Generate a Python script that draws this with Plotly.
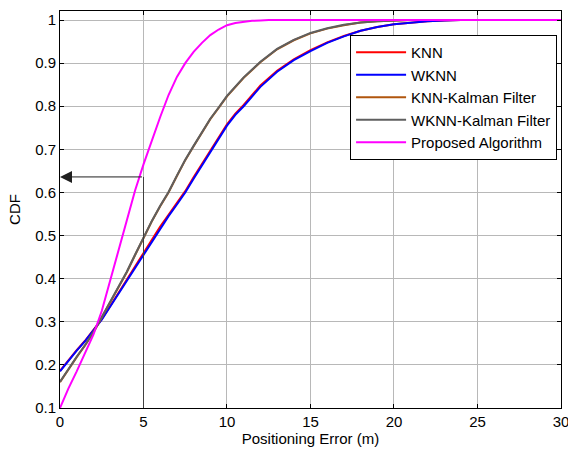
import plotly.graph_objects as go

# ---- data ----
x_knn = [0, 0.5, 1, 1.5, 2, 2.5, 3, 3.5, 4, 4.5, 5, 5.5, 6, 6.5, 7, 7.5, 8, 8.5, 9, 9.5,
         10, 10.5, 11, 12, 13, 14, 15, 16, 17, 18, 19, 20, 21, 22, 23, 24, 30]
y_knn = [0.186, 0.211, 0.234, 0.256, 0.281, 0.306, 0.336, 0.367, 0.397, 0.428, 0.458, 0.491,
         0.521, 0.548, 0.575, 0.603, 0.635, 0.666, 0.698, 0.728, 0.758, 0.783, 0.803, 0.848,
         0.882, 0.909, 0.930, 0.948, 0.963, 0.975, 0.984, 0.990, 0.994, 0.997, 0.999, 1.0, 1.0]
y_wknn = [0.185, 0.210, 0.233, 0.255, 0.280, 0.305, 0.335, 0.365, 0.395, 0.425, 0.455, 0.488,
          0.518, 0.545, 0.572, 0.600, 0.632, 0.663, 0.695, 0.725, 0.755, 0.780, 0.800, 0.845,
          0.880, 0.907, 0.928, 0.947, 0.962, 0.975, 0.984, 0.990, 0.994, 0.997, 0.999, 1.0, 1.0]

x_kal = [0, 0.5, 1, 1.5, 2, 2.5, 3, 3.5, 4, 4.5, 5, 5.5, 6, 6.5, 7, 7.5, 8, 8.5, 9, 9.5,
         10, 11, 12, 13, 14, 15, 16, 17, 18, 19, 20, 21, 30]
y_knn_kal = [0.160, 0.190, 0.218, 0.245, 0.275, 0.310, 0.345, 0.380, 0.415, 0.455, 0.495,
             0.533, 0.568, 0.600, 0.638, 0.675, 0.707, 0.740, 0.770, 0.796, 0.823, 0.866,
             0.902, 0.932, 0.953, 0.969, 0.980, 0.988, 0.994, 0.997, 0.999, 1.0, 1.0]
y_wknn_kal = [0.161, 0.191, 0.219, 0.246, 0.276, 0.311, 0.346, 0.381, 0.416, 0.456, 0.496,
              0.534, 0.569, 0.601, 0.639, 0.676, 0.708, 0.741, 0.771, 0.797, 0.824, 0.867,
              0.903, 0.933, 0.954, 0.970, 0.981, 0.989, 0.994, 0.997, 0.999, 1.0, 1.0]

x_prop = [0, 0.5, 1, 1.5, 2, 2.5, 3, 3.5, 4, 4.5, 5, 5.5, 6, 6.5, 7, 7.5, 8, 8.5, 9, 9.5,
          10, 10.5, 11, 11.5, 12, 12.5, 30]
y_prop = [0.100, 0.145, 0.185, 0.226, 0.270, 0.325, 0.395, 0.465, 0.535, 0.605, 0.665,
          0.722, 0.775, 0.826, 0.868, 0.900, 0.926, 0.947, 0.965, 0.978, 0.988, 0.993,
          0.996, 0.998, 0.999, 1.0, 1.0]

names = ["KNN", "WKNN", "KNN-Kalman Filter", "WKNN-Kalman Filter", "Proposed Algorithm"]
colors = ["#ff0000", "#0000ff", "#b0560e", "#5f5f5f", "#ff00ff"]

x_ticks = [0, 5, 10, 15, 20, 25, 30]
y_ticks = [0.1, 0.2, 0.3, 0.4, 0.5, 0.6, 0.7, 0.8, 0.9, 1.0]
y_tick_text = ["0.1", "0.2", "0.3", "0.4", "0.5", "0.6", "0.7", "0.8", "0.9", "1"]

marker_x = 5       # positioning error marked by the arrow
marker_y = 0.636   # CDF value pointed at

FONT = "Liberation Sans, Arial, sans-serif"
FS = 15

fig = go.Figure()
series = [(x_knn, y_knn), (x_knn, y_wknn), (x_kal, y_knn_kal), (x_kal, y_wknn_kal), (x_prop, y_prop)]
for (xs, ys), n, c in zip(series, names, colors):
    fig.add_trace(go.Scatter(x=xs, y=ys, mode="lines", name=n,
                             line=dict(color=c, width=2)))

# marker line + arrow
fig.add_shape(type="line", xref="x", yref="y", x0=marker_x, x1=marker_x,
              y0=y_ticks[0], y1=marker_y, line=dict(color="#404040", width=1))
fig.add_annotation(x=0, y=marker_y, ax=marker_x, ay=marker_y, xref="x", yref="y",
                   axref="x", ayref="y", showarrow=True, arrowhead=2, arrowsize=2.4,
                   arrowwidth=1, arrowcolor="#202020", text="")

axis_common = dict(showline=True, linecolor="black", linewidth=1, mirror="allticks",
                   ticks="inside", ticklen=4, tickcolor="black", showgrid=True,
                   gridcolor="#b8b8b8", gridwidth=1, zeroline=False,
                   ticklabeloverflow="allow", automargin=False,
                   tickfont=dict(family=FONT, size=FS, color="black"))

fig.update_xaxes(range=[0, 30.001], tickvals=x_ticks,
                 title=dict(text="Positioning Error (m)", font=dict(family=FONT, size=FS, color="black"),
                            standoff=2),
                 **axis_common)
fig.update_yaxes(range=[0.1, 1.0209], tickvals=y_ticks, ticktext=y_tick_text,
                 title=dict(text="CDF", font=dict(family=FONT, size=FS, color="black"), standoff=10),
                 **axis_common)

fig.update_layout(
    width=568, height=452,
    margin=dict(l=60, r=7, t=11, b=44),
    plot_bgcolor="white", paper_bgcolor="white",
    font=dict(family=FONT, size=FS, color="black"),
    legend=dict(x=0.579, y=0.9395, xanchor="left", yanchor="top",
                bgcolor="white", bordercolor="black", borderwidth=1,
                font=dict(family=FONT, size=FS, color="black"),
                itemwidth=50, tracegroupgap=0),
    showlegend=True,
)

fig.write_html("out.html")
